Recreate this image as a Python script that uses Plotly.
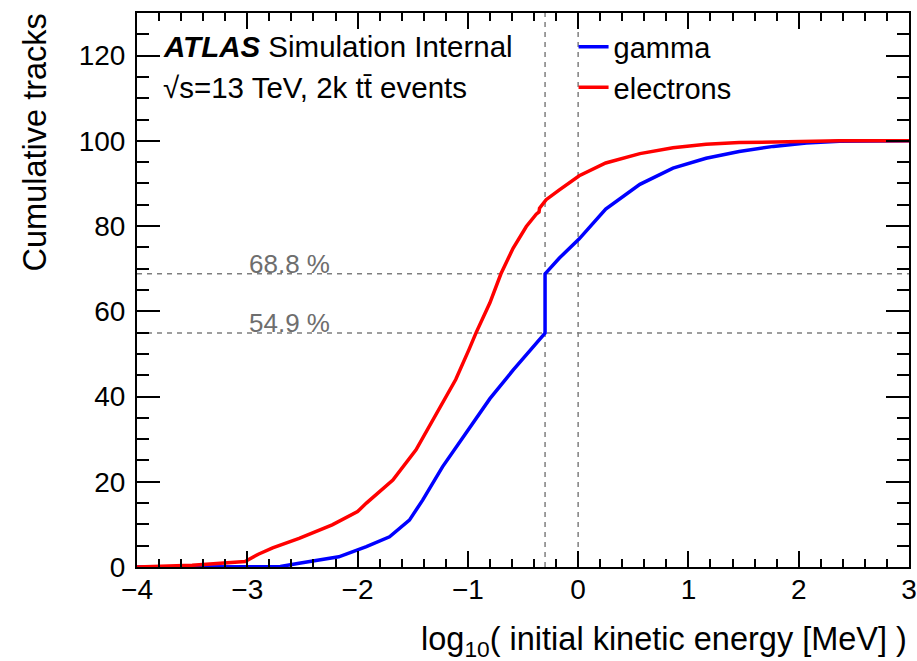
import plotly.graph_objects as go

# cumulative fraction of tracks vs log10(initial kinetic energy / MeV)
gamma_x = [-4.0, -3.0, -2.7, -2.53, -2.17, -1.92, -1.71, -1.53, -1.41, -1.23, -0.99, -0.80,
           -0.59, -0.44, -0.30, -0.30, -0.17, 0.01, 0.25, 0.56, 0.86, 1.16, 1.46, 1.77,
           2.07, 2.37, 3.0]
gamma_y = [0.0, 0.0, 0.1, 0.9, 2.4, 4.8, 7.1, 11.0, 15.7, 23.5, 32.4, 39.5,
           46.2, 50.6, 54.9, 68.8, 72.5, 77.0, 84.0, 89.8, 93.6, 95.9, 97.5, 98.7,
           99.5, 99.9, 100.0]

elec_x = [-4.0, -3.5, -3.02, -2.9, -2.77, -2.53, -2.23, -2.0, -1.92, -1.68, -1.47, -1.26,
          -1.11, -0.99, -0.925, -0.80, -0.70, -0.59, -0.47, -0.38, -0.355, -0.35, -0.29,
          -0.17, 0.01, 0.25, 0.56, 0.86, 1.16, 1.46, 1.77, 2.37, 3.0]
elec_y = [0.0, 0.4, 1.3, 3.0, 4.5, 6.7, 9.9, 13.0, 15.0, 20.4, 27.5, 36.9,
          44.0, 51.0, 55.0, 62.0, 68.8, 74.8, 79.9, 82.8, 83.3, 84.2, 86.2,
          88.5, 91.8, 94.8, 97.0, 98.4, 99.2, 99.6, 99.8, 100.0, 100.0]

x_range = [-4, 3]
y_range = [0, 130]
cut_x = [-0.3, 0.0]
frac_levels = [68.8, 54.9]
frac_labels = ["68.8 %", "54.9 %"]

FONT = "Liberation Sans, Arial, Helvetica, sans-serif"
grey = "#7f7f7f"

fig = go.Figure()

# dashed guide lines
for lv in frac_levels:
    fig.add_trace(go.Scatter(x=x_range, y=[lv, lv], mode="lines", showlegend=False,
                             hoverinfo="skip",
                             line=dict(color=grey, width=1.5, dash="5px,5px")))
for cx in cut_x:
    fig.add_trace(go.Scatter(x=[cx, cx], y=y_range, mode="lines", showlegend=False,
                             hoverinfo="skip",
                             line=dict(color=grey, width=1.5, dash="5px,5px")))

fig.add_trace(go.Scatter(x=gamma_x, y=gamma_y, mode="lines", name="gamma",
                         line=dict(color="#0000ff", width=3.5)))
fig.add_trace(go.Scatter(x=elec_x, y=elec_y, mode="lines", name="electrons",
                         line=dict(color="#ff0000", width=3.5)))

for lv, lab in zip(frac_levels, frac_labels):
    fig.add_annotation(x=-3.0, y=lv, text=lab, showarrow=False, xanchor="left",
                       yanchor="bottom", yshift=-7,
                       font=dict(family=FONT, size=26, color="#6e6e6e"))

fig.add_annotation(xref="paper", yref="paper", x=0.031, y=0.94, xanchor="left", yanchor="middle",
                   text="<b><i>ATLAS</i></b> Simulation Internal", showarrow=False,
                   font=dict(family=FONT, size=29.5, color="black"))
fig.add_annotation(xref="paper", yref="paper", x=0.031, y=0.866, xanchor="left", yanchor="middle",
                   text="\u221as=13 TeV, 2k tt\u0304 events", showarrow=False,
                   font=dict(family=FONT, size=29.5, color="black"))

# axis titles
fig.add_annotation(xref="paper", yref="paper", x=1.0, y=-0.093, xanchor="right", yanchor="top",
                   text="log<sub>10</sub>( initial kinetic energy [MeV] )", showarrow=False,
                   font=dict(family=FONT, size=32.5, color="black"))
fig.add_annotation(xref="paper", yref="paper", x=-0.132, y=1.003, xanchor="center", yanchor="top",
                   text="Cumulative tracks", textangle=-90, showarrow=False,
                   font=dict(family=FONT, size=32.5, color="black"))

fig.update_xaxes(range=x_range, dtick=1, ticks="inside", ticklen=16, tickwidth=1.5,
                 tickcolor="black", showline=True, linecolor="black", linewidth=2,
                 mirror="ticks", showgrid=False, zeroline=False,
                 minor=dict(ticks="inside", ticklen=8, dtick=0.2, tickcolor="black", tickwidth=1.5),
                 tickfont=dict(family=FONT, size=28, color="black"), ticklabelstandoff=-4)
fig.update_yaxes(range=y_range, dtick=20, ticks="inside", ticklen=23, tickwidth=1.5,
                 tickcolor="black", showline=True, linecolor="black", linewidth=2,
                 mirror="ticks", showgrid=False, zeroline=False,
                 minor=dict(ticks="inside", ticklen=12, dtick=5, tickcolor="black", tickwidth=1.5),
                 tickfont=dict(family=FONT, size=28, color="black"), ticklabelstandoff=4)

fig.update_layout(width=917, height=661, margin=dict(l=137, r=8, t=13, b=94, autoexpand=False),
                  plot_bgcolor="white", paper_bgcolor="white",
                  legend=dict(x=0.5655, y=0.985, xanchor="left", yanchor="top",
                              bgcolor="rgba(0,0,0,0)", font=dict(family=FONT, size=29, color="black"),
                              tracegroupgap=0, itemwidth=30))

fig.write_html("out.html", config={"displayModeBar": False},
               post_script="document.body.style.margin='0px';")
